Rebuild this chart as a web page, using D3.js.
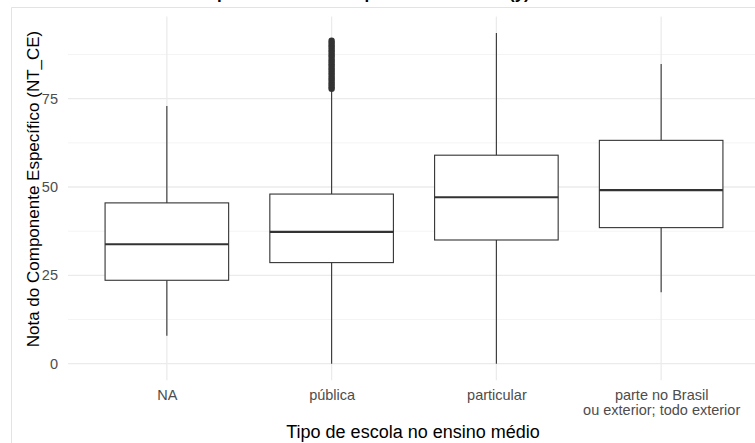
<!DOCTYPE html>
<html>
<head>
<meta charset="utf-8">
<script src="https://cdn.jsdelivr.net/npm/d3@7"></script>
<style>
  body { margin: 0; background: #fff; }
  svg { display: block; font-family: "Liberation Sans", Arial, sans-serif; }
</style>
</head>
<body>
<svg id="chart" width="755" height="443"></svg>
<script>
// data
const categories = ["NA", "pública", "particular", "parte no Brasil\nou exterior; todo exterior"];
const whiskerLow  = [7.9, 0, 0, 20.2];
const boxLow      = [23.6, 28.6, 35.0, 38.5];
const medians     = [33.8, 37.3, 47.1, 49.1];
const boxHigh     = [45.5, 48.0, 59.0, 63.2];
const whiskerHigh = [72.9, 77.3, 93.6, 84.8];
// outliers of "pública" (stacked into a thick bar)
const outliersPublica = [77.8, 78.4, 79.1, 79.7, 80.4, 81.0, 81.7, 82.3, 83.0, 83.6, 84.3,
                         84.9, 85.6, 86.2, 86.9, 87.5, 88.2, 88.8, 89.5, 90.1, 90.8, 91.4];
const yTicks = [0, 25, 50, 75];
const yMinor = [12.5, 37.5, 62.5, 87.5];

const titleText = "Boxplot da Nota Final por Escola Média (y)";
const xTitle = "Tipo de escola no ensino médio";
const yTitle = "Nota do Componente Específico (NT_CE)";

const width = 755, height = 443;
const panel = { left: 68, right: 760, top: 16.4, bottom: 380.2 };

const svg = d3.select("#chart");

// frame around the picture
svg.append("path")
   .attr("d", `M11.5,${height} V7.5 H${width}`)
   .attr("fill", "none").attr("stroke", "#e3e3e3").attr("stroke-width", 1);

// scales
const xScale = d3.scalePoint()
                 .domain(categories)
                 .range([panel.left, panel.right])
                 .padding(0.6);
const step = xScale.step();

const yMax = d3.max(whiskerHigh.concat(outliersPublica));
const pad = 0.05 * yMax;
const yScale = d3.scaleLinear()
                 .domain([0 - pad, yMax + pad])
                 .range([panel.bottom, panel.top]);

// grid
const grid = svg.append("g");
grid.selectAll(".minor").data(yMinor).join("line")
    .attr("x1", panel.left).attr("x2", panel.right)
    .attr("y1", d => yScale(d)).attr("y2", d => yScale(d))
    .attr("stroke", "#f1f1f1").attr("stroke-width", 0.8);
grid.selectAll(".major").data(yTicks).join("line")
    .attr("x1", panel.left).attr("x2", panel.right)
    .attr("y1", d => yScale(d)).attr("y2", d => yScale(d))
    .attr("stroke", "#ebebeb").attr("stroke-width", 1.3);
grid.selectAll(".vmajor").data(categories).join("line")
    .attr("x1", d => xScale(d)).attr("x2", d => xScale(d))
    .attr("y1", panel.top).attr("y2", panel.bottom)
    .attr("stroke", "#ebebeb").attr("stroke-width", 1.3);

// axes (text only, like theme_minimal)
const yAxis = svg.append("g")
   .attr("transform", `translate(${panel.left - 6},0)`)
   .call(d3.axisLeft(yScale).tickValues(yTicks).tickSize(0).tickPadding(4));
yAxis.select(".domain").remove();
yAxis.selectAll("text").attr("fill", "#4d4d4d").style("font-size", "14.5px")
     .style("font-family", "Liberation Sans, Arial, sans-serif");

const xAxis = svg.append("g")
   .attr("transform", `translate(0,${panel.bottom + 6})`)
   .call(d3.axisBottom(xScale).tickSize(0).tickPadding(4).tickFormat(""));
xAxis.select(".domain").remove();
xAxis.selectAll(".tick").each(function (d) {
  const lines = d.split("\n");
  lines.forEach((l, i) => {
    d3.select(this).append("text")
      .attr("fill", "#4d4d4d").attr("text-anchor", "middle")
      .attr("x", 0).attr("y", 14 + i * 14.5)
      .style("font-size", "14.5px")
      .style("font-family", "Liberation Sans, Arial, sans-serif")
      .text(l);
  });
});

// boxes
const boxW = step * 0.75;
const boxes = svg.append("g").selectAll("g").data(categories).join("g")
   .attr("transform", d => `translate(${xScale(d)},0)`);

boxes.append("line")
     .attr("y1", (d, i) => yScale(whiskerLow[i])).attr("y2", (d, i) => yScale(boxLow[i]))
     .attr("stroke", "#333").attr("stroke-width", 1.1);
boxes.append("line")
     .attr("y1", (d, i) => yScale(boxHigh[i])).attr("y2", (d, i) => yScale(whiskerHigh[i]))
     .attr("stroke", "#333").attr("stroke-width", 1.1);
boxes.append("rect")
     .attr("x", -boxW / 2).attr("width", boxW)
     .attr("y", (d, i) => yScale(boxHigh[i]))
     .attr("height", (d, i) => yScale(boxLow[i]) - yScale(boxHigh[i]))
     .attr("fill", "#fff").attr("stroke", "#333").attr("stroke-width", 1.1);
boxes.append("line")
     .attr("x1", -boxW / 2).attr("x2", boxW / 2)
     .attr("y1", (d, i) => yScale(medians[i])).attr("y2", (d, i) => yScale(medians[i]))
     .attr("stroke", "#333").attr("stroke-width", 2.2);

svg.append("g").selectAll("circle").data(outliersPublica).join("circle")
   .attr("cx", xScale("pública")).attr("cy", d => yScale(d))
   .attr("r", 3.2).attr("fill", "#333");

// titles
const panelMidX = (panel.left + panel.right) / 2;
svg.append("text")
   .attr("x", panelMidX - 1).attr("y", 438)
   .attr("text-anchor", "middle").attr("fill", "#000")
   .style("font-size", "18px").text(xTitle);

svg.append("text")
   .attr("transform", `translate(39,189) rotate(-90)`)
   .attr("text-anchor", "middle").attr("fill", "#000")
   .style("font-size", "17px").text(yTitle);

// title, mostly cut off by the top edge
svg.append("text")
   .attr("x", 185).attr("y", -1)
   .attr("font-weight", "bold").attr("fill", "#000")
   .style("font-size", "17px").text(titleText);
</script>
</body>
</html>
